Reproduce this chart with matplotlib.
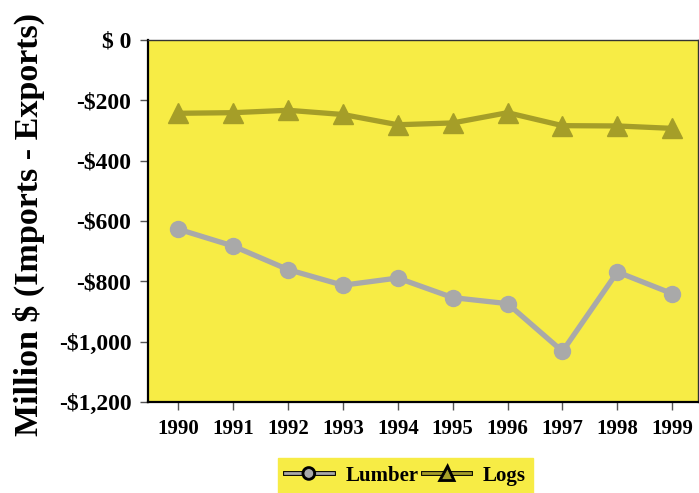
import matplotlib
matplotlib.use('Agg')
import matplotlib.pyplot as plt
from matplotlib.lines import Line2D
import matplotlib.patheffects as pe

years = [1990, 1991, 1992, 1993, 1994, 1995, 1996, 1997, 1998, 1999]
lumber = [-627, -683, -761, -813, -789, -854, -874, -1032, -769, -841]
logs = [-243, -241, -233, -247, -281, -275, -241, -284, -285, -293]
y_ticks = [0, -200, -400, -600, -800, -1000, -1200]
y_labels = ['$ 0', '-$200', '-$400', '-$600', '-$800', '-$1,000', '-$1,200']

yellow = '#F7EC45'
gray = '#A9A9A9'
olive = '#A59E28'

plt.rcParams['font.family'] = ['Liberation Serif', 'DejaVu Serif']
plt.rcParams['font.weight'] = 'bold'

fig = plt.figure(figsize=(6.99, 4.93), dpi=100)
ax = fig.add_axes([0.2117, 0.1846, 0.787, 0.7343])
ax.set_facecolor(yellow)

ax.plot(years, lumber, color=gray, lw=3.8, marker='o', ms=11.5, mec=gray)
ax.plot(years, logs, color=olive, lw=3.8, marker='^', ms=14, mec=olive)

ax.set_xlim(1989.45, 1999.47)
ax.set_ylim(-1200, 0)
ax.set_xticks(years)
ax.set_xticklabels([str(y) for y in years], fontsize=15, fontweight='bold')
ax.set_yticks(y_ticks)
ax.set_yticklabels(y_labels, fontsize=17, fontweight='bold')
ax.tick_params(axis='both', direction='out', length=6, width=1, color='#555555', pad=6)

for s in ['left', 'bottom']:
    ax.spines[s].set_linewidth(1.6)
    ax.spines[s].set_color('black')
for s in ['top', 'right']:
    ax.spines[s].set_linewidth(1.0)
    ax.spines[s].set_color('#333333')

fig.text(0.041, 0.544, 'Million $ (Imports - Exports)', rotation=90, ha='center', va='center',
         fontsize=24.5, fontweight='bold')

outline = [pe.Stroke(linewidth=3.5, foreground='black'), pe.Normal()]
handles = [
    Line2D([], [], color=gray, lw=2, marker='o', ms=7, mfc=gray, mec='black', mew=0.6, path_effects=outline),
    Line2D([], [], color=olive, lw=2, marker='^', ms=8, mfc=olive, mec='black', mew=0.6, path_effects=outline),
]
leg = fig.legend(handles, ['Lumber', 'Logs'], loc='center', bbox_to_anchor=(0.58, 0.035), ncol=2,
                 frameon=True, fancybox=False, fontsize=15, handlelength=2.3, columnspacing=0.2,
                 handletextpad=0.6, borderpad=0.35)
leg.get_frame().set_facecolor(yellow)
leg.get_frame().set_edgecolor(yellow)
leg.get_frame().set_alpha(1)

fig.savefig('out.png', dpi=100)
